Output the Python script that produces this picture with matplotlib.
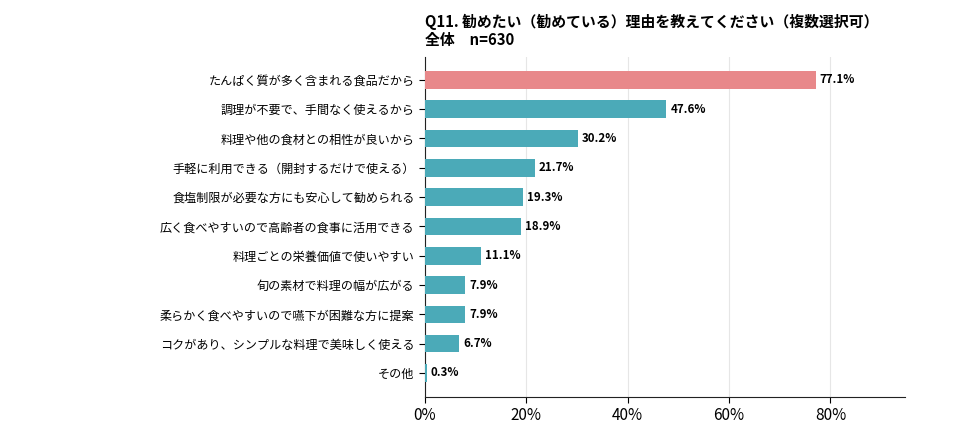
import matplotlib as mpl
mpl.use('Agg')
import matplotlib.pyplot as plt
from matplotlib.ticker import FuncFormatter

plt.rcParams['font.family'] = ['Noto Sans CJK JP', 'DejaVu Sans']

labels = ['たんぱく質が多く含まれる食品だから',
          '調理が不要で、手間なく使えるから',
          '料理や他の食材との相性が良いから',
          '手軽に利用できる（開封するだけで使える）',
          '食塩制限が必要な方にも安心して勧められる',
          '広く食べやすいので高齢者の食事に活用できる',
          '料理ごとの栄養価値で使いやすい',
          '旬の素材で料理の幅が広がる',
          '柔らかく食べやすいので嚥下が困難な方に提案',
          'コクがあり、シンプルな料理で美味しく使える',
          'その他']
values = [77.1, 47.6, 30.2, 21.7, 19.3, 18.9, 11.1, 7.9, 7.9, 6.7, 0.3]
title = 'Q11. 勧めたい（勧めている）理由を教えてください（複数選択可）\n全体　n=630'

colors = ['#E8888A'] + ['#4BAAB8'] * (len(values) - 1)

fig = plt.figure(figsize=(9.64, 4.28), dpi=100)
ax = fig.add_axes([425 / 964, 31 / 428, 480 / 964, 340 / 428])

y = range(len(values))
ax.barh(y, values, height=0.6, color=colors, zorder=3)
for i, v in enumerate(values):
    ax.text(v + 0.8, i, '{:.1f}%'.format(v), va='center', ha='left',
            fontsize=8.3, fontweight='bold', zorder=4)

ax.set_yticks(list(y))
ax.set_yticklabels(labels, fontsize=8.7)
ax.set_ylim(len(values) - 1 + 0.82, -0.78)
ax.set_xlim(0, 94.7)
ax.set_xticks([0, 20, 40, 60, 80])
ax.xaxis.set_major_formatter(FuncFormatter(lambda v, p: '{:.0f}%'.format(v)))
ax.tick_params(axis='x', labelsize=11, length=4)
ax.tick_params(axis='y', length=4)
ax.grid(axis='x', color='#e6e6e6', linewidth=0.8, zorder=0)
ax.spines['top'].set_visible(False)
ax.spines['right'].set_visible(False)
ax.spines['left'].set_color('#222222')
ax.spines['bottom'].set_color('#222222')

ax.set_title(title, loc='left', fontsize=10.7, fontweight='bold', pad=9,
             linespacing=1.1)

fig.savefig('out.png', dpi=100)
